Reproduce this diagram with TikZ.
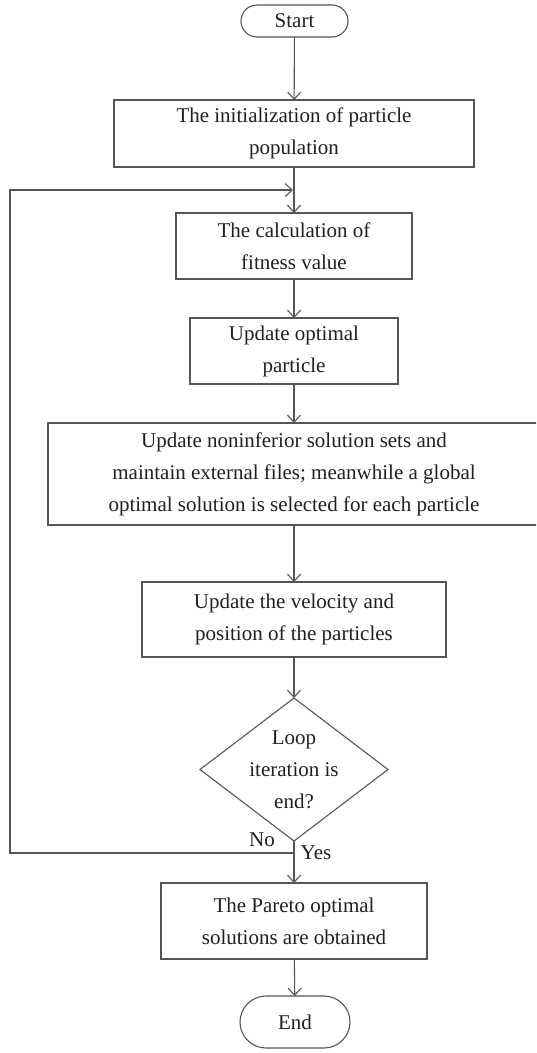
\documentclass[tikz,border=0pt]{standalone}
\usepackage{fontspec}
\setmainfont{Liberation Serif}
\usetikzlibrary{shapes.geometric,shapes.misc,arrows.meta}
\definecolor{linegray}{HTML}{555555}
\definecolor{txt}{HTML}{231F20}
\begin{document}
\begin{tikzpicture}[x=1pt,y=-1pt,
  box/.style={draw=linegray, line width=1.1pt, rectangle, align=center,
    inner sep=0pt, outer sep=0pt, text=txt, font=\fontsize{21}{32}\selectfont},
  term/.style={box, rounded rectangle},
  flow/.style={draw=linegray, line width=1.1pt, -{Straight Barb[length=7pt,width=13pt]}},
  lbl/.style={text=txt, font=\fontsize{21}{24}\selectfont, inner sep=0pt}]
\clip (0,0) rectangle (536,1053);
\fill[white] (0,0) rectangle (536,1053);

% process steps
\node[term, minimum width=107pt, minimum height=32pt] (start) at (294.5,21) {Start};
\node[box, minimum width=360pt, minimum height=67pt] (b1) at (294,133.5)
  {The initialization of particle\\population};
\node[box, minimum width=236pt, minimum height=66pt] (b2) at (294,246)
  {The calculation of\\fitness value};
\node[box, minimum width=208pt, minimum height=66pt] (b3) at (294,351)
  {Update optimal\\particle};
\node[box, minimum width=492pt, minimum height=102pt] (b4) at (294,474)
  {Update noninferior solution sets and\\maintain external files; meanwhile a global\\optimal solution is selected for each particle};
\node[box, minimum width=304pt, minimum height=75pt] (b5) at (294,619.5)
  {Update the velocity and\\position of the particles};
\node[box, diamond, minimum width=188pt, minimum height=143pt] (d) at (294,769.5) {};
\node[box, draw=none] at (d) {Loop\\iteration is\\end?};
\node[box, minimum width=266pt, minimum height=76pt] (b6) at (294,921)
  {The Pareto optimal\\solutions are obtained};
\node[term, minimum width=110pt, minimum height=52pt] (end) at (295,1022) {End};

% main flow
\draw[flow] (start) -- (b1);
\draw[flow] (b1) -- (b2);
\draw[flow] (b2) -- (b3);
\draw[flow] (b3) -- (b4);
\draw[flow] (b4.south) -- (b5.north);
\draw[flow] (b5) -- (d);
\draw[flow] (d.south) -- (b6.north);
\draw[flow] (b6) -- (end);

% feedback loop
\coordinate (lp) at (294,853);
\coordinate (lb) at (10,853);
\coordinate (lt) at (10,190);
\coordinate (li) at (293,190);
\draw[flow] (lp) -- (lb) -- (lt) -- (li);

\node[lbl] (no) at (262,840) {No};
\node[lbl] (yes) at (316,853) {Yes};
\end{tikzpicture}
\end{document}
